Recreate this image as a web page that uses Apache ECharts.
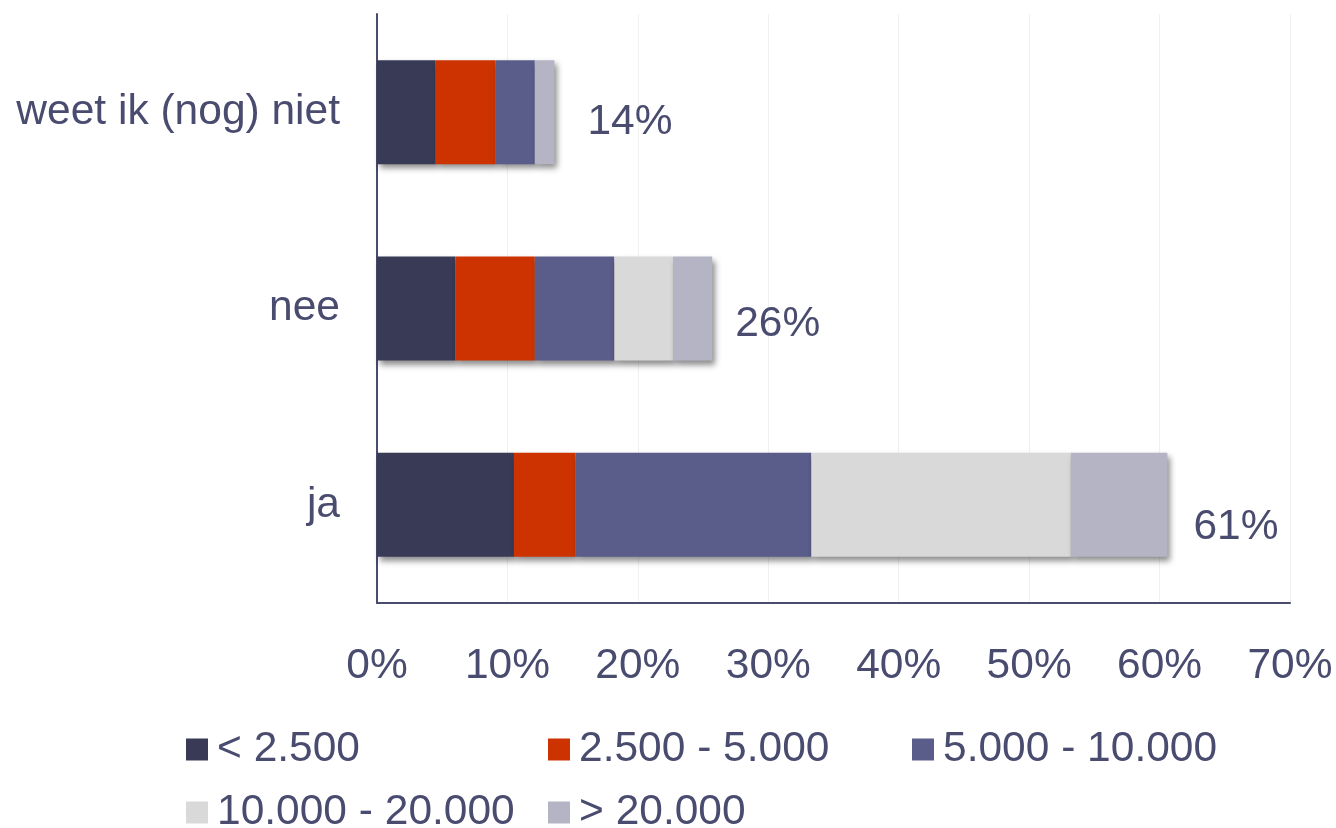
<!DOCTYPE html>
<html>
<head>
<meta charset="utf-8">
<script src="https://cdn.jsdelivr.net/npm/echarts@6/dist/echarts.min.js"></script>
<style>
html, body { margin: 0; padding: 0; background: #fff; }
#chart { width: 1336px; height: 828px; }
</style>
</head>
<body>
<div id="chart"></div>
<script>
// categories, bottom to top
var categories = ['ja', 'nee', 'weet ik (nog) niet'];

var seriesNames = ['< 2.500', '2.500 - 5.000', '5.000 - 10.000', '10.000 - 20.000', '> 20.000'];

// shares per category (in %), same order as categories
var lt2500      = [10.5, 6.0, 4.5];
var from2500    = [4.7, 6.1, 4.6];
var from5000    = [18.1, 6.1, 3.0];
var from10000   = [19.9, 4.5, 0];
var gt20000     = [7.4, 3.0, 1.5];

var totals = [61, 26, 14];

var xTicks = [0, 10, 20, 30, 40, 50, 60, 70];

var colors = ['#383a56', '#cc3300', '#5a5c8a', '#d9d9d9', '#b4b4c4'];
var textColor = '#494b6f';
var font = '"Liberation Sans", Arial, sans-serif';
var fs = 42.5;

// label nudges, same order as categories
var labelNudge = [[-2, 22], [-5, 16], [5, 10]];

var values = [lt2500, from2500, from5000, from10000, gt20000];

var series = [];
for (var i = 0; i < values.length; i++) {
  var s = {
    name: seriesNames[i],
    type: 'bar',
    stack: 'total',
    barWidth: 104,
    data: values[i],
    itemStyle: {
      color: colors[i],
      shadowColor: 'rgba(0,0,0,0.45)',
      shadowBlur: 6,
      shadowOffsetX: 3,
      shadowOffsetY: 4
    },
    emphasis: { disabled: true }
  };
  if (i === values.length - 1) {
    s.data = values[i].map(function (v, k) {
      return { value: v, label: { offset: labelNudge[k] } };
    });
    s.label = {
      show: true,
      position: 'right',
      distance: 28,
      fontSize: fs,
      fontFamily: font,
      color: textColor,
      formatter: function (p) { return totals[p.dataIndex] + '%'; }
    };
  }
  series.push(s);
}

// one legend per item so they sit in columns like the original
var legendPos = [[186, 728], [548, 728], [912, 728], [186, 791], [548, 791]];
var legends = seriesNames.map(function (n, i) {
  return {
    data: [n],
    left: legendPos[i][0],
    top: legendPos[i][1],
    padding: 0,
    icon: 'rect',
    itemWidth: 22,
    itemHeight: 22,
    selectedMode: false,
    textStyle: { fontSize: fs, fontFamily: font, color: textColor, padding: [0, 0, 0, 4] }
  };
});

var myChart = echarts.init(document.getElementById('chart'));
var option = {
  animation: false,
  color: colors,
  grid: { left: 377, right: 46, top: 14, bottom: 225, containLabel: false },
  legend: legends,
  xAxis: {
    type: 'value',
    min: xTicks[0],
    max: xTicks[xTicks.length - 1],
    interval: 10,
    axisLine: { show: true, lineStyle: { color: textColor, width: 2 } },
    axisTick: { show: false },
    splitLine: { show: true, lineStyle: { color: '#f0f0f0', width: 1 } },
    axisLabel: {
      margin: 42,
      fontSize: fs,
      fontFamily: font,
      color: textColor,
      formatter: '{value}%'
    }
  },
  yAxis: {
    type: 'category',
    data: categories,
    axisLine: { show: true, lineStyle: { color: textColor, width: 2 } },
    axisTick: { show: false },
    splitLine: { show: false },
    axisLabel: {
      margin: 37,
      fontSize: fs,
      fontFamily: font,
      color: textColor
    }
  },
  series: series
};
myChart.setOption(option);
</script>
</body>
</html>
